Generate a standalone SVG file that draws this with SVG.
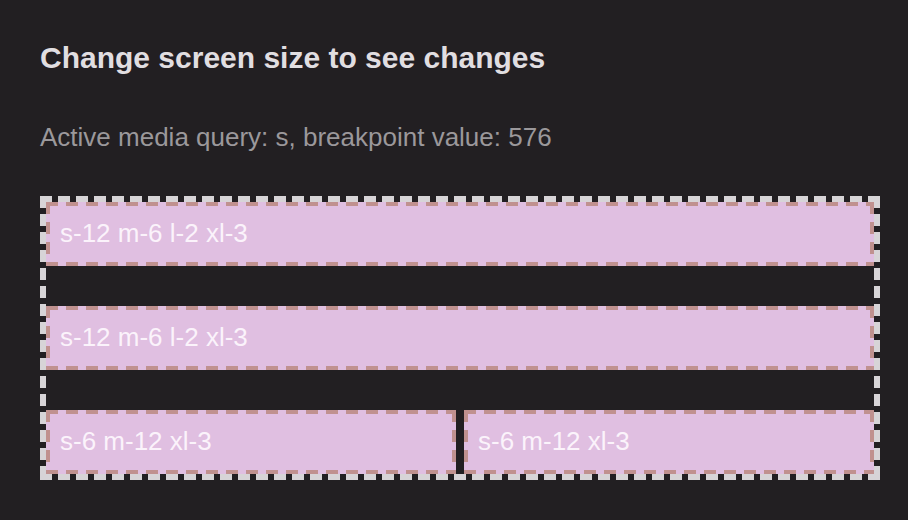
<svg xmlns="http://www.w3.org/2000/svg" width="908" height="520" viewBox="0 0 908 520">
  <style>
    .title { font-family: "Liberation Sans", Arial, sans-serif; font-weight: bold; font-size: 30px; fill: #e1dee1; }
    .sub { font-family: "Liberation Sans", Arial, sans-serif; font-size: 26px; fill: #9b989b; }
    .cell { fill: #e0bfe1; }
    .cell-border { fill: none; stroke: #c0918f; stroke-width: 4; stroke-dasharray: 12 8; }
    .grid-border { fill: none; stroke: #d7d4d7; stroke-width: 6; stroke-dasharray: 12 6; }
    .label { font-family: "Liberation Sans", Arial, sans-serif; font-size: 26px; fill: #fbf3fb; }
  </style>
  <rect width="908" height="520" fill="#221f22"/>
  <text class="title" x="40" y="68">Change screen size to see changes</text>
  <text class="sub" x="40" y="146">Active media query: s, breakpoint value: 576</text>

  <g id="grid">
    <path class="grid-border" d="M40 199 H880 M40 477 H880 M43 196 V480 M877 196 V480"/>
  </g>

  <g id="cell-1">
    <rect class="cell" x="46" y="202" width="828" height="64"/>
    <path class="cell-border" d="M46 204 H874 M46 264 H874 M48 202 V266 M872 202 V266"/>
    <text class="label" x="60" y="242">s-12 m-6 l-2 xl-3</text>
  </g>
  <g id="cell-2">
    <rect class="cell" x="46" y="306" width="828" height="64"/>
    <path class="cell-border" d="M46 308 H874 M46 368 H874 M48 306 V370 M872 306 V370"/>
    <text class="label" x="60" y="346">s-12 m-6 l-2 xl-3</text>
  </g>
  <g id="cell-3">
    <rect class="cell" x="46" y="410" width="410" height="64"/>
    <path class="cell-border" d="M46 412 H456 M46 472 H456 M48 410 V474 M454 410 V474"/>
    <text class="label" x="60" y="450">s-6 m-12 xl-3</text>
  </g>
  <g id="cell-4">
    <rect class="cell" x="464" y="410" width="410" height="64"/>
    <path class="cell-border" d="M464 412 H874 M464 472 H874 M466 410 V474 M872 410 V474"/>
    <text class="label" x="478" y="450">s-6 m-12 xl-3</text>
  </g>
  <g id="connectors"/>
</svg>
